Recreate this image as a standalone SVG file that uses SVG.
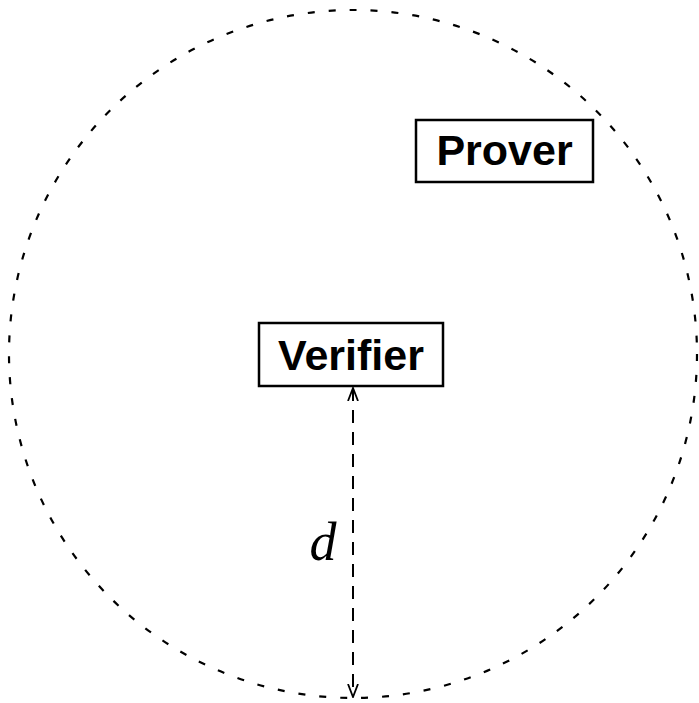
<svg xmlns="http://www.w3.org/2000/svg" width="699" height="703" viewBox="0 0 699 703">
<style>
.box{fill:#fff;stroke:#000;stroke-width:2.5}
.lbl{font-family:"Liberation Sans",Arial,sans-serif;font-weight:bold;font-size:43px;text-anchor:middle;fill:#000}
.conn{fill:none;stroke:#000;stroke-width:2;stroke-dasharray:13 9}
</style>
<defs>
<marker id="open" viewBox="0 0 14 12" refX="13" refY="6" markerWidth="14" markerHeight="12" markerUnits="userSpaceOnUse" orient="auto-start-reverse">
<path d="M0,1 L13,6 L0,11" fill="none" stroke="#000" stroke-width="1.8"/>
</marker>
</defs>
<circle cx="353" cy="354" r="344" fill="none" stroke="#000" stroke-width="2.2" stroke-dasharray="7 14"/>
<g id="connectors">
<line class="conn" x1="353" y1="388" x2="353" y2="697" marker-start="url(#open)" marker-end="url(#open)"/>
<text x="323" y="560" font-family="'Liberation Serif','Times New Roman',serif" font-style="italic" font-size="54" text-anchor="middle">d</text>
</g>
<g id="verifier">
<rect class="box" x="259" y="323" width="184" height="63"/>
<text class="lbl" x="351" y="370">Verifier</text>
</g>
<g id="prover">
<rect class="box" x="416" y="120" width="177" height="62"/>
<text class="lbl" x="504.5" y="165">Prover</text>
</g>
</svg>
